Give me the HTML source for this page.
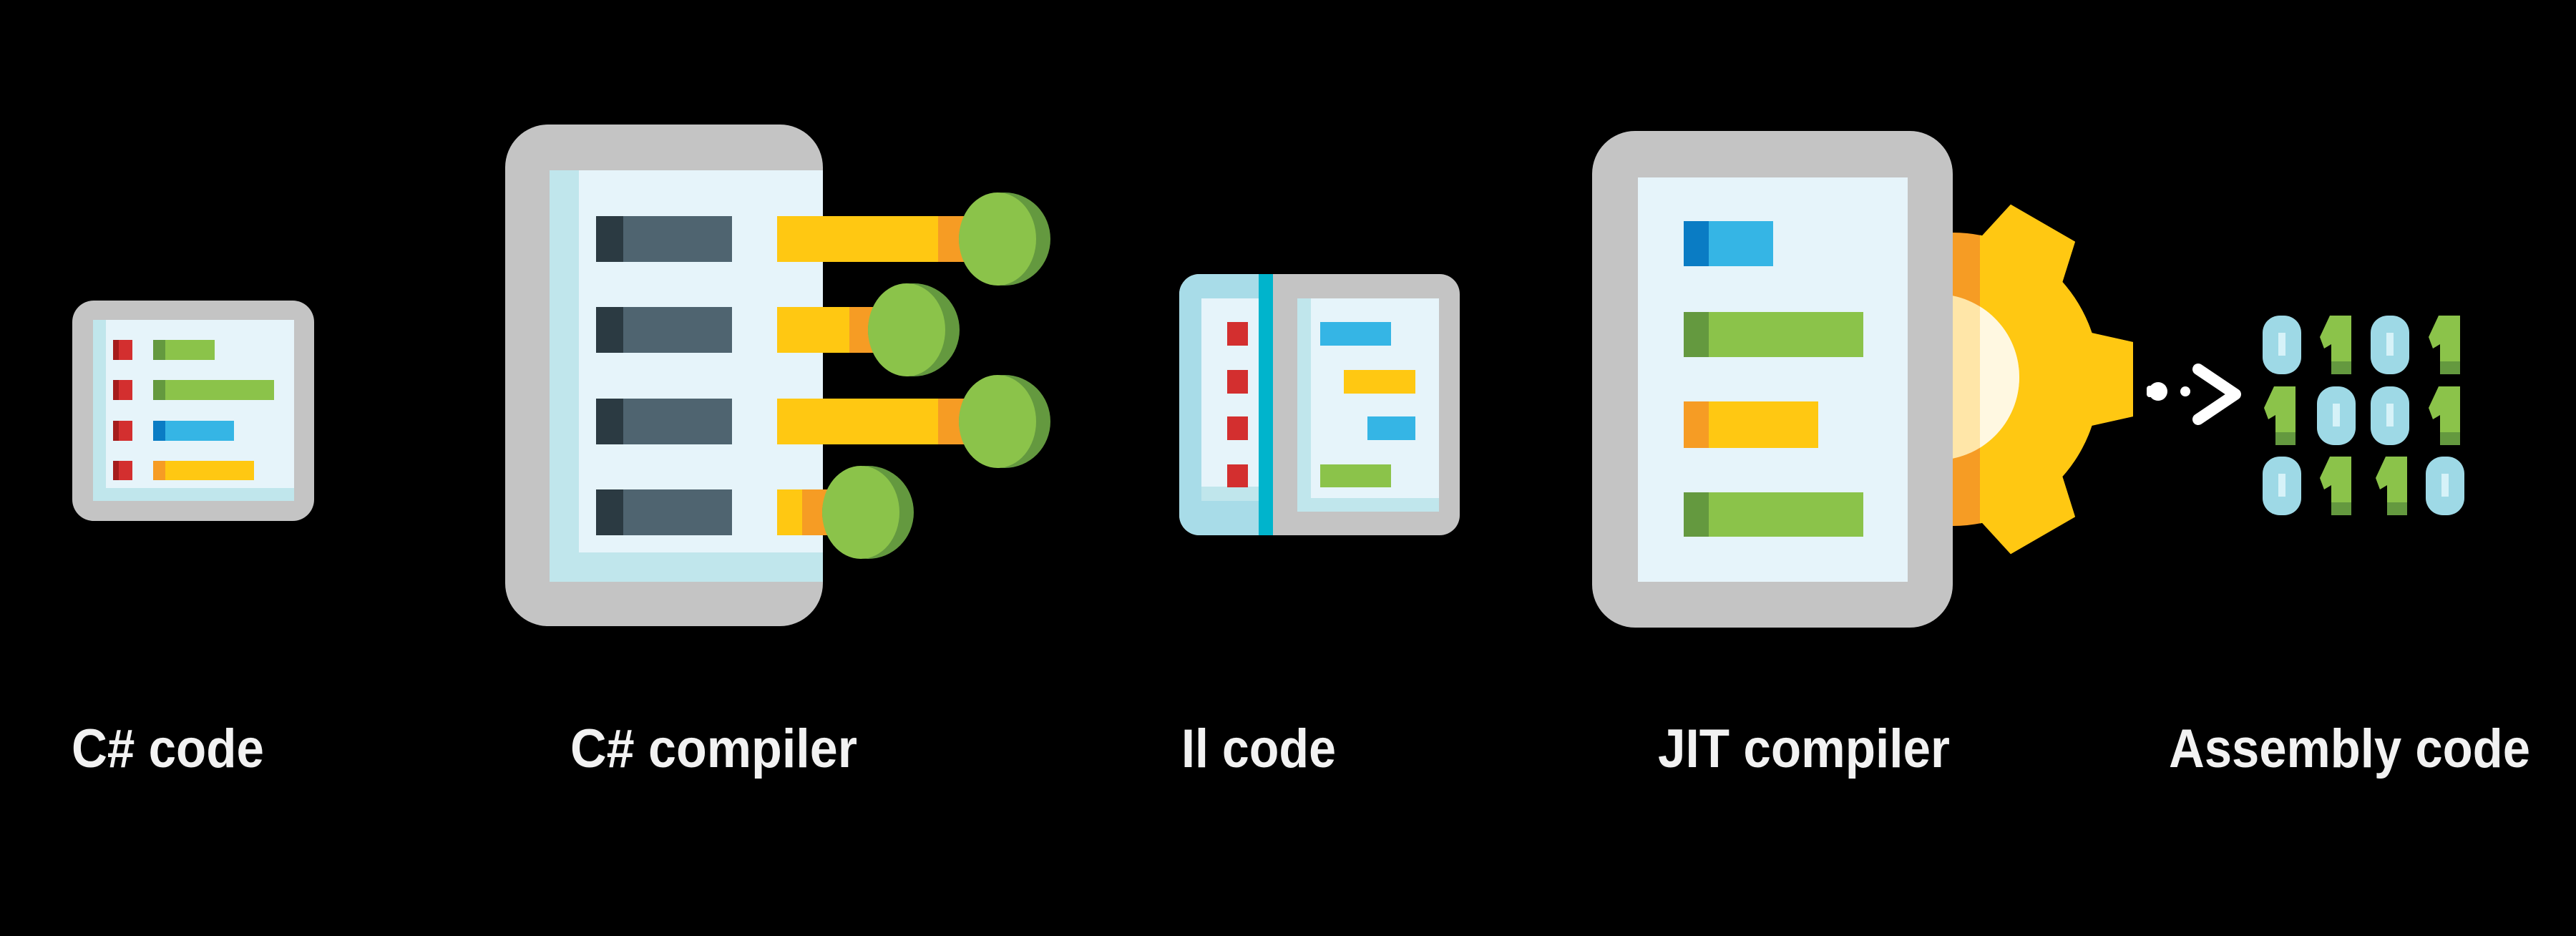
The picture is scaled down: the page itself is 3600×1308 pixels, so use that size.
<!DOCTYPE html>
<html><head><meta charset="utf-8"><style>html,body{margin:0;padding:0;background:#000}svg{display:block}</style></head>
<body>
<svg width="3600" height="1308" viewBox="0 0 3600 1308" xmlns="http://www.w3.org/2000/svg">
<rect width="3600" height="1308" fill="#000"/>
<defs>
<clipPath id="gr"><rect x="2729" y="200" width="400" height="700"/></clipPath>
<clipPath id="gr2"><rect x="2767" y="200" width="400" height="700"/></clipPath>
<g id="gear">
<circle cx="2729" cy="530" r="205"/>
<polygon points="2900,460 2981,478 2981,582 2900,600"/>
<polygon points="2900,460 2981,478 2981,582 2900,600" transform="rotate(-60 2729 530)"/>
<polygon points="2900,460 2981,478 2981,582 2900,600" transform="rotate(60 2729 530)"/>
</g>
</defs>

<!-- C# code icon -->
<rect x="101" y="420" width="338" height="308" rx="30" fill="#c4c4c4"/>
<rect x="130" y="447" width="281" height="253" fill="#e6f4fa"/>
<rect x="130" y="447" width="18" height="253" fill="#c0e6ec"/>
<rect x="130" y="682" width="281" height="18" fill="#c0e6ec"/>
<g fill="#d32f2f"><rect x="158" y="475" width="27" height="28"/><rect x="158" y="531" width="27" height="28"/><rect x="158" y="588" width="27" height="28"/><rect x="158" y="644" width="27" height="27"/></g>
<g fill="#a51c1c"><rect x="158" y="475" width="8" height="28"/><rect x="158" y="531" width="8" height="28"/><rect x="158" y="588" width="8" height="28"/><rect x="158" y="644" width="8" height="27"/></g>
<rect x="214" y="475" width="86" height="28" fill="#8bc34a"/><rect x="214" y="475" width="17" height="28" fill="#64993f"/>
<rect x="214" y="531" width="169" height="28" fill="#8bc34a"/><rect x="214" y="531" width="17" height="28" fill="#64993f"/>
<rect x="214" y="588" width="113" height="28" fill="#35b5e5"/><rect x="214" y="588" width="17" height="28" fill="#0a7cc4"/>
<rect x="214" y="644" width="141" height="27" fill="#ffc812"/><rect x="214" y="644" width="17" height="27" fill="#f69c24"/>

<!-- C# compiler -->
<rect x="706" y="174" width="444" height="701" rx="60" fill="#c4c4c4"/>
<rect x="768" y="238" width="382" height="575" fill="#e6f4fa"/>
<rect x="768" y="238" width="41" height="575" fill="#c0e6ec"/>
<rect x="768" y="772" width="382" height="41" fill="#c0e6ec"/>
<g fill="#4f6470"><rect x="833" y="302" width="190" height="64"/><rect x="833" y="429" width="190" height="64"/><rect x="833" y="557" width="190" height="64"/><rect x="833" y="684" width="190" height="64"/></g>
<g fill="#2b3a42"><rect x="833" y="302" width="38" height="64"/><rect x="833" y="429" width="38" height="64"/><rect x="833" y="557" width="38" height="64"/><rect x="833" y="684" width="38" height="64"/></g>
<rect x="1086" y="302" width="263" height="64" fill="#ffc812"/><rect x="1311" y="302" width="38" height="64" fill="#f69c24"/>
<rect x="1086" y="429" width="134" height="64" fill="#ffc812"/><rect x="1187" y="429" width="33" height="64" fill="#f69c24"/>
<rect x="1086" y="557" width="263" height="64" fill="#ffc812"/><rect x="1311" y="557" width="38" height="64" fill="#f69c24"/>
<rect x="1086" y="684" width="72" height="64" fill="#ffc812"/><rect x="1121" y="684" width="37" height="64" fill="#f69c24"/>
<g>
<ellipse cx="1404" cy="334" rx="64" ry="65" fill="#64993f"/><ellipse cx="1394" cy="334" rx="54" ry="65" fill="#8bc34a"/>
<ellipse cx="1277" cy="461" rx="64" ry="65" fill="#64993f"/><ellipse cx="1267" cy="461" rx="54" ry="65" fill="#8bc34a"/>
<ellipse cx="1404" cy="589" rx="64" ry="65" fill="#64993f"/><ellipse cx="1394" cy="589" rx="54" ry="65" fill="#8bc34a"/>
<ellipse cx="1213" cy="716" rx="64" ry="65" fill="#64993f"/><ellipse cx="1203" cy="716" rx="54" ry="65" fill="#8bc34a"/>
</g>

<!-- Il code -->
<rect x="1648" y="383" width="392" height="365" rx="28" fill="#c4c4c4"/>
<path d="M1676 383 H1779 V748 H1676 A28 28 0 0 1 1648 720 V411 A28 28 0 0 1 1676 383Z" fill="#a8dce8"/>
<rect x="1759" y="383" width="20" height="365" fill="#00b4cc"/>
<rect x="1679" y="417" width="80" height="283" fill="#e6f4fa"/>
<rect x="1679" y="680" width="80" height="20" fill="#c0e6ec"/>
<rect x="1813" y="417" width="198" height="298" fill="#e6f4fa"/>
<rect x="1813" y="417" width="19" height="298" fill="#c0e6ec"/>
<rect x="1813" y="696" width="198" height="19" fill="#c0e6ec"/>
<g fill="#d32f2f"><rect x="1715" y="450" width="29" height="33"/><rect x="1715" y="517" width="29" height="33"/><rect x="1715" y="582" width="29" height="33"/><rect x="1715" y="649" width="29" height="32"/></g>
<rect x="1845" y="450" width="99" height="33" fill="#35b5e5"/>
<rect x="1878" y="517" width="100" height="33" fill="#ffc812"/>
<rect x="1911" y="582" width="67" height="33" fill="#35b5e5"/>
<rect x="1845" y="649" width="99" height="32" fill="#8bc34a"/>

<!-- gear -->
<use href="#gear" fill="#f69c24" clip-path="url(#gr)"/>
<use href="#gear" fill="#ffc812" clip-path="url(#gr2)"/>
<circle cx="2706" cy="527" r="116" fill="#ffe6a8" clip-path="url(#gr)"/>
<circle cx="2706" cy="527" r="116" fill="#fff8e1" clip-path="url(#gr2)"/>

<!-- JIT compiler -->
<rect x="2225" y="183" width="504" height="694" rx="60" fill="#c4c4c4"/>
<rect x="2289" y="248" width="377" height="565" fill="#e6f4fa"/>
<rect x="2353" y="309" width="125" height="63" fill="#35b5e5"/><rect x="2353" y="309" width="35" height="63" fill="#0a7cc4"/>
<rect x="2353" y="436" width="251" height="63" fill="#8bc34a"/><rect x="2353" y="436" width="35" height="63" fill="#64993f"/>
<rect x="2353" y="561" width="188" height="65" fill="#ffc812"/><rect x="2353" y="561" width="35" height="65" fill="#f69c24"/>
<rect x="2353" y="688" width="251" height="62" fill="#8bc34a"/><rect x="2353" y="688" width="35" height="62" fill="#64993f"/>

<!-- arrow -->
<circle cx="3016" cy="547" r="13" fill="#fff"/>
<rect x="3000" y="539" width="18" height="16" rx="4" fill="#fff"/>
<circle cx="3054" cy="547" r="7" fill="#fff"/>
<polyline points="3072,516 3124,551 3072,586" fill="none" stroke="#fff" stroke-width="16" stroke-linecap="round" stroke-linejoin="round"/>

<!-- binary digits -->
<defs>
<g id="d0"><rect x="0" y="0" width="54" height="82" rx="24" fill="#9ed9e6"/><rect x="22" y="24" width="10" height="32" fill="#d6f2f8"/></g>
<g id="d1"><polygon points="16,0 46,0 46,82 18,82 18,40 8,46 2,30" fill="#8bc34a"/><rect x="18" y="64" width="28" height="18" fill="#64993f"/></g>
</defs>
<use href="#d0" x="3162" y="441"/><use href="#d1" x="3240" y="441"/><use href="#d0" x="3313" y="441"/><use href="#d1" x="3392" y="441"/>
<use href="#d1" x="3162" y="540"/><use href="#d0" x="3238" y="540"/><use href="#d0" x="3313" y="540"/><use href="#d1" x="3392" y="540"/>
<use href="#d0" x="3162" y="638"/><use href="#d1" x="3240" y="638"/><use href="#d1" x="3318" y="638"/><use href="#d0" x="3390" y="638"/>

<!-- labels -->
<g font-family="Liberation Sans, sans-serif" font-weight="bold" font-size="76" fill="#f2f2f2">
<text x="100" y="1072" textLength="269" lengthAdjust="spacingAndGlyphs">C# code</text>
<text x="797" y="1072" textLength="401" lengthAdjust="spacingAndGlyphs">C# compiler</text>
<text x="1651" y="1072" textLength="216" lengthAdjust="spacingAndGlyphs">Il code</text>
<text x="2317" y="1072" textLength="408" lengthAdjust="spacingAndGlyphs">JIT compiler</text>
<text x="3031" y="1072" textLength="505" lengthAdjust="spacingAndGlyphs">Assembly code</text>
</g>
</svg>
</body></html>
